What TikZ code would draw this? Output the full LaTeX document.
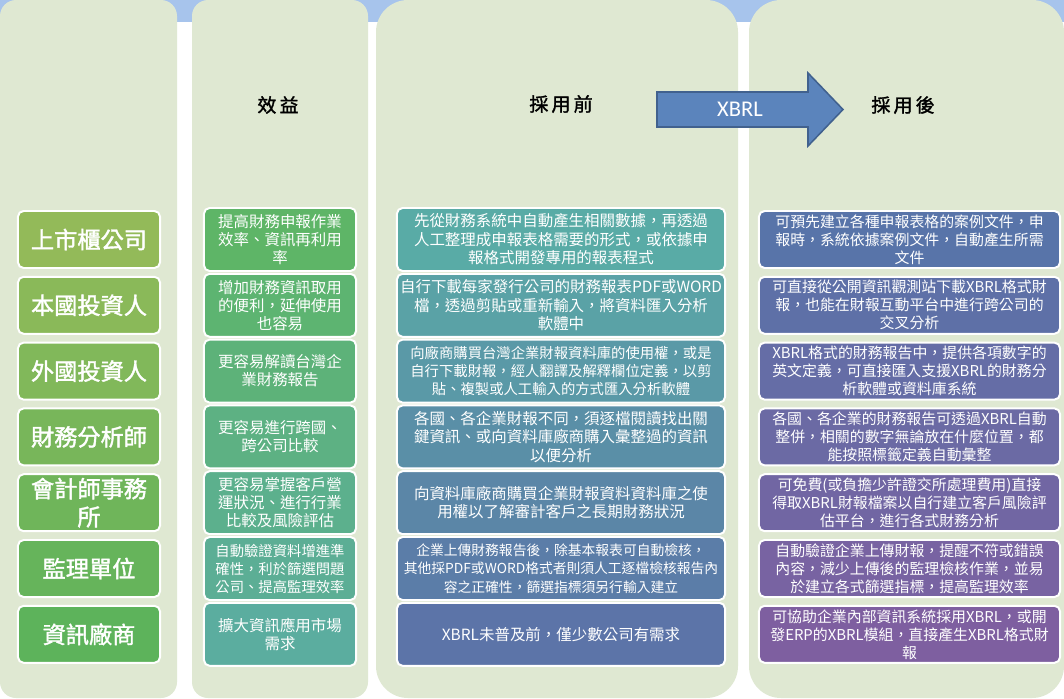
\documentclass[tikz,border=0pt]{standalone}
\usepackage{fontspec}
\usepackage{tikz}
\newfontfamily\cjk[AutoFakeBold=1.6]{Noto Sans CJK TC}
\newfontfamily\arrowfont{Carlito}

\definecolor{colbg}{HTML}{DFE8D2}
\definecolor{band}{HTML}{A7C4EC}
\definecolor{arrowfill}{HTML}{5B84BC}
\definecolor{arrowline}{HTML}{41618E}
\definecolor{whoA}{HTML}{93BA59}
\definecolor{whoB}{HTML}{5DB35B}
\definecolor{gainA}{HTML}{5EB567}
\definecolor{gainB}{HTML}{5BAD9F}
\definecolor{preA}{HTML}{59ABA6}
\definecolor{preB}{HTML}{5C74A8}
\definecolor{postA}{HTML}{5874A9}
\definecolor{postB}{HTML}{7E5FA0}

\tikzset{
	cell/.style={draw=white, line width=1.4pt, rounded corners=4pt, inner sep=0pt, text=white, align=center},
	who/.style={cell, minimum width=3.55cm, minimum height=1.425cm, font=\cjk\bfseries\fontsize{16.5}{20}\selectfont},
	gain/.style={cell, minimum width=3.8cm, minimum height=1.575cm, font=\cjk\fontsize{11}{12.8}\selectfont},
	pre/.style={cell, minimum width=8.2cm, minimum height=1.575cm, font=\cjk\fontsize{11}{13.2}\selectfont},
	post/.style={cell, minimum width=7.525cm, minimum height=1.425cm, font=\cjk\fontsize{10.6}{12.8}\selectfont},
	head/.style={text=black, font=\cjk\bfseries\fontsize{13.5}{16}\selectfont},
}

\begin{document}
\begin{tikzpicture}[x=0.025cm, y=-0.025cm]
	\useasboundingbox (0,0) rectangle (1064,698);
	\fill[white] (0,0) rectangle (1064,698);
	\fill[band] (0,0) rectangle (1064,22);
	
	% columns
	\fill[colbg, rounded corners=0.4cm] (0,0) rectangle (177,698);
	\fill[colbg, rounded corners=0.4cm] (192,0) rectangle (368,698);
	\fill[colbg, rounded corners=0.8cm] (376,0) rectangle (738,698);
	\fill[colbg, rounded corners=0.8cm] (749,0) rectangle (1064,698);
	
	% headers
	\node[head] (gainhead) at (278,105) {效\,益};
	\node[head] (prehead)  at (561,104) {採\,用\,前};
	\node[head] (posthead) at (903,105) {採\,用\,後};
	
	\fill[arrowfill, draw=arrowline, line width=1.1pt] (657,92) -- (808,92) -- (808,73) -- (843,109.5) -- (808,146) -- (808,127) -- (657,127) -- cycle;
	\node[text=white, font=\arrowfont\fontsize{16}{18}\selectfont] (xbrl) at (740,109.5) {XBRL};
	
	% who
	\node[who, fill=whoA!100!whoB] (who1) at (89,239.5) {上市櫃公司};
	\node[who, fill=whoA!83!whoB]  (who2) at (89,305.3) {本國投資人};
	\node[who, fill=whoA!67!whoB]  (who3) at (89,371.1) {外國投資人};
	\node[who, fill=whoA!50!whoB]  (who4) at (89,436.9) {財務分析師};
	\node[who, fill=whoA!33!whoB]  (who5) at (89,502.7) {會計師事務\\所};
	\node[who, fill=whoA!17!whoB]  (who6) at (89,568.5) {監理單位};
	\node[who, fill=whoA!0!whoB]   (who7) at (89,634.3) {資訊廠商};
	
	% gain
	\node[gain, fill=gainA!100!gainB] (gain1) at (280,239.5) {提高財務申報作業\\效率、資訊再利用\\率};
	\node[gain, fill=gainA!83!gainB]  (gain2) at (280,305.3) {增加財務資訊取用\\的便利，延伸使用\\也容易};
	\node[gain, fill=gainA!67!gainB]  (gain3) at (280,371.1) {更容易解讀台灣企\\業財務報告};
	\node[gain, fill=gainA!50!gainB]  (gain4) at (280,436.9) {更容易進行跨國、\\跨公司比較};
	\node[gain, fill=gainA!33!gainB]  (gain5) at (280,502.7) {更容易掌握客戶營\\運狀況、進行行業\\比較及風險評估};
	\node[gain, fill=gainA!17!gainB, font=\cjk\fontsize{10.2}{12.8}\selectfont] (gain6) at (280,568.5) {自動驗證資料增進準\\確性，利於篩選問題\\公司、提高監理效率};
	\node[gain, fill=gainA!0!gainB]   (gain7) at (280,634.3) {擴大資訊應用市場\\需求};
	
	% pre
	\node[pre, fill=preA!100!preB] (pre1) at (561,239.5) {先從財務系統中自動產生相關數據，再透過\\人工整理成申報表格需要的形式，或依據申\\報格式開發專用的報表程式};
	\node[pre, fill=preA!83!preB]  (pre2) at (561,305.3) {自行下載每家發行公司的財務報表PDF或WORD\\檔，透過剪貼或重新輸入，將資料匯入分析\\軟體中};
	\node[pre, fill=preA!67!preB, font=\cjk\fontsize{10.2}{13}\selectfont] (pre3) at (561,371.1) {向廠商購買台灣企業財報資料庫的使用權，或是\\自行下載財報，經人翻譯及解釋欄位定義，以剪\\貼、複製或人工輸入的方式匯入分析軟體};
	\node[pre, fill=preA!50!preB]  (pre4) at (561,436.9) {各國、各企業財報不同，須逐檔閱讀找出關\\鍵資訊、或向資料庫廠商購入彙整過的資訊\\以便分析};
	\node[pre, fill=preA!33!preB]  (pre5) at (561,502.7) {向資料庫廠商購買企業財報資料資料庫之使\\用權以了解審計客戶之長期財務狀況};
	\node[pre, fill=preA!17!preB, font=\cjk\fontsize{9.8}{13}\selectfont] (pre6) at (561,568.5) {企業上傳財務報告後，除基本報表可自動檢核，\\其他採PDF或WORD格式者則須人工逐檔檢核報告內\\容之正確性，篩選指標須另行輸入建立};
	\node[pre, fill=preA!0!preB]   (pre7) at (561,634.3) {XBRL未普及前，僅少數公司有需求};
	
	% post
	\node[post, fill=postA!100!postB] (post1) at (909.5,239.5) {可預先建立各種申報表格的案例文件，申\\報時，系統依據案例文件，自動產生所需\\文件};
	\node[post, fill=postA!83!postB]  (post2) at (909.5,305.3) {可直接從公開資訊觀測站下載XBRL格式財\\報，也能在財報互動平台中進行跨公司的\\交叉分析};
	\node[post, fill=postA!67!postB]  (post3) at (909.5,371.1) {XBRL格式的財務報告中，提供各項數字的\\英文定義，可直接匯入支援XBRL的財務分\\析軟體或資料庫系統};
	\node[post, fill=postA!50!postB]  (post4) at (909.5,436.9) {各國、各企業的財務報告可透過XBRL自動\\整併，相關的數字無論放在什麼位置，都\\能按照標籤定義自動彙整};
	\node[post, fill=postA!33!postB]  (post5) at (909.5,502.7) {可免費(或負擔少許證交所處理費用)直接\\得取XBRL財報檔案以自行建立客戶風險評\\估平台，進行各式財務分析};
	\node[post, fill=postA!17!postB]  (post6) at (909.5,568.5) {自動驗證企業上傳財報，提醒不符或錯誤\\內容，減少上傳後的監理檢核作業，並易\\於建立各式篩選指標，提高監理效率};
	\node[post, fill=postA!0!postB]   (post7) at (909.5,634.3) {可協助企業內部資訊系統採用XBRL，或開\\發ERP的XBRL模組，直接產生XBRL格式財\\報};
\end{tikzpicture}
\end{document}
